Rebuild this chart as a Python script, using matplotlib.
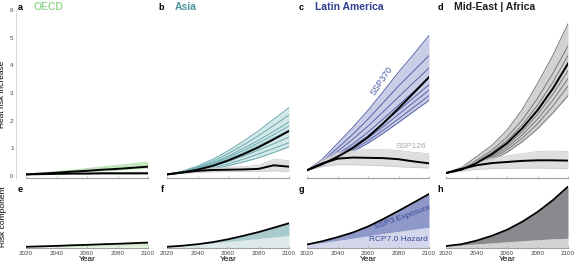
import matplotlib
matplotlib.use("Agg")
import matplotlib.pyplot as plt
import numpy as np

plt.rcParams['font.family'] = ['Liberation Sans', 'DejaVu Sans']

years = [2020, 2030, 2040, 2050, 2060, 2070, 2080, 2090, 2100]
regions = ["OECD", "Asia", "Latin America", "Mid-East | Africa"]
letters_top = ["a", "b", "c", "d"]
letters_bot = ["e", "f", "g", "h"]

# SSP370 ensemble members (heat risk increase)
oecd_members = [
    [0.05, 0.10, 0.15, 0.20, 0.26, 0.32, 0.38, 0.44, 0.50],
    [0.05, 0.09, 0.14, 0.19, 0.24, 0.29, 0.34, 0.40, 0.45],
    [0.05, 0.08, 0.12, 0.16, 0.20, 0.25, 0.30, 0.35, 0.40],
    [0.05, 0.07, 0.09, 0.12, 0.15, 0.18, 0.21, 0.25, 0.28],
]
asia_members = [
    [0.05, 0.17, 0.35, 0.60, 0.90, 1.25, 1.63, 2.05, 2.47],
    [0.05, 0.15, 0.31, 0.53, 0.80, 1.11, 1.45, 1.82, 2.20],
    [0.05, 0.14, 0.28, 0.47, 0.71, 0.99, 1.29, 1.61, 1.95],
    [0.05, 0.13, 0.26, 0.44, 0.66, 0.91, 1.19, 1.49, 1.80],
    [0.05, 0.12, 0.24, 0.40, 0.60, 0.83, 1.09, 1.37, 1.65],
    [0.05, 0.11, 0.21, 0.35, 0.52, 0.71, 0.93, 1.16, 1.40],
    [0.05, 0.10, 0.18, 0.29, 0.43, 0.60, 0.79, 0.99, 1.20],
    [0.05, 0.09, 0.15, 0.24, 0.36, 0.50, 0.65, 0.84, 1.05],
]
latam_members = [
    [0.20, 0.60, 1.17, 1.75, 2.37, 3.05, 3.75, 4.40, 5.08],
    [0.20, 0.52, 1.00, 1.50, 2.05, 2.65, 3.25, 3.80, 4.35],
    [0.20, 0.47, 0.88, 1.32, 1.80, 2.32, 2.85, 3.38, 3.90],
    [0.20, 0.44, 0.78, 1.15, 1.58, 2.06, 2.55, 3.05, 3.57],
    [0.20, 0.41, 0.72, 1.06, 1.45, 1.90, 2.37, 2.83, 3.30],
    [0.20, 0.40, 0.68, 1.00, 1.37, 1.78, 2.22, 2.66, 3.10],
    [0.20, 0.38, 0.64, 0.93, 1.27, 1.65, 2.06, 2.48, 2.90],
    [0.20, 0.36, 0.60, 0.87, 1.18, 1.54, 1.93, 2.33, 2.73],
]
mea_members = [
    [0.10, 0.30, 0.69, 1.10, 1.65, 2.40, 3.34, 4.35, 5.50],
    [0.10, 0.26, 0.56, 0.92, 1.40, 2.02, 2.80, 3.70, 4.70],
    [0.10, 0.24, 0.50, 0.84, 1.27, 1.84, 2.55, 3.38, 4.35],
    [0.10, 0.22, 0.46, 0.78, 1.18, 1.72, 2.37, 3.15, 4.06],
    [0.10, 0.21, 0.43, 0.72, 1.10, 1.60, 2.22, 2.95, 3.80],
    [0.10, 0.20, 0.40, 0.67, 1.02, 1.48, 2.05, 2.73, 3.52],
    [0.10, 0.19, 0.37, 0.62, 0.94, 1.36, 1.88, 2.52, 3.25],
    [0.10, 0.18, 0.34, 0.56, 0.85, 1.23, 1.70, 2.27, 2.90],
]

# SSP370 multi-model means (also total in bottom panels)
oecd_mean = [0.05, 0.08, 0.11, 0.15, 0.18, 0.22, 0.25, 0.29, 0.33]
asia_mean = [0.05, 0.12, 0.22, 0.36, 0.55, 0.78, 1.03, 1.32, 1.62]
latam_mean = [0.20, 0.42, 0.69, 1.00, 1.40, 1.90, 2.44, 3.00, 3.57]
mea_mean = [0.10, 0.22, 0.46, 0.78, 1.18, 1.72, 2.37, 3.15, 4.06]

# SSP126 mean and range
oecd_126 = [0.05, 0.06, 0.07, 0.08, 0.08, 0.09, 0.09, 0.09, 0.09]
oecd_126_lo = [0.05, 0.05, 0.05, 0.06, 0.06, 0.06, 0.06, 0.06, 0.06]
oecd_126_hi = [0.05, 0.07, 0.09, 0.10, 0.11, 0.12, 0.12, 0.13, 0.13]
asia_126 = [0.05, 0.12, 0.18, 0.21, 0.22, 0.23, 0.25, 0.38, 0.33]
asia_126_lo = [0.05, 0.09, 0.12, 0.14, 0.15, 0.15, 0.16, 0.18, 0.15]
asia_126_hi = [0.05, 0.15, 0.24, 0.29, 0.31, 0.33, 0.38, 0.60, 0.55]
latam_126 = [0.20, 0.45, 0.62, 0.66, 0.65, 0.64, 0.60, 0.52, 0.45]
latam_126_lo = [0.20, 0.33, 0.40, 0.40, 0.38, 0.36, 0.33, 0.30, 0.28]
latam_126_hi = [0.20, 0.58, 0.85, 0.93, 0.95, 0.95, 0.92, 0.85, 0.80]
mea_126 = [0.10, 0.25, 0.38, 0.46, 0.50, 0.54, 0.56, 0.56, 0.55]
mea_126_lo = [0.10, 0.17, 0.23, 0.26, 0.27, 0.28, 0.28, 0.27, 0.25]
mea_126_hi = [0.10, 0.32, 0.52, 0.64, 0.72, 0.80, 0.88, 0.90, 0.88]

# Hazard component (bottom panels, light part)
oecd_hazard = [0.05, 0.06, 0.07, 0.08, 0.09, 0.10, 0.11, 0.12, 0.13]
asia_hazard = [0.05, 0.13, 0.22, 0.30, 0.40, 0.50, 0.60, 0.70, 0.80]
latam_hazard = [0.20, 0.33, 0.47, 0.62, 0.78, 0.93, 1.08, 1.22, 1.35]
mea_hazard = [0.10, 0.17, 0.24, 0.31, 0.38, 0.45, 0.52, 0.58, 0.62]

members = [oecd_members, asia_members, latam_members, mea_members]
means = [oecd_mean, asia_mean, latam_mean, mea_mean]
m126 = [oecd_126, asia_126, latam_126, mea_126]
lo126 = [oecd_126_lo, asia_126_lo, latam_126_lo, mea_126_lo]
hi126 = [oecd_126_hi, asia_126_hi, latam_126_hi, mea_126_hi]
hazards = [oecd_hazard, asia_hazard, latam_hazard, mea_hazard]

title_colors = ["#9ad894", "#4c949b", "#2f3f8f", "#1f1f1f"]
line_colors = ["#b9e3b3", "#6aa9b0", "#5865aa", "#7a7a7a"]
fill_colors = ["#e3f3df", "#d4e7e9", "#c9cde5", "#d2d2d2"]
exp_colors = ["#cfe9ca", "#a9cbce", "#8e98c9", "#8b898d"]
haz_colors = ["#e9f5e6", "#dde9eb", "#d4d7eb", "#d3d3d3"]

fig = plt.figure(figsize=(5.75, 2.67), dpi=100)
W, H = 575.0, 267.0
lefts = [26, 167, 307, 446]
axw = 122
spine_col = "#a0a0a0"

for i in range(4):
    yr = np.array(years)
    # top panel
    ax = fig.add_axes([lefts[i] / W, (H - 178) / H, axw / W, 168 / H])
    mem = np.array(members[i])
    ax.fill_between(yr, mem.min(axis=0), mem.max(axis=0), color=fill_colors[i], lw=0, zorder=1)
    for m in mem:
        ax.plot(yr, m, color=line_colors[i], lw=0.7, zorder=2)
    ax.fill_between(yr, lo126[i], hi126[i], color="#dcdcdc", lw=0, zorder=3, alpha=0.9)
    ax.plot(yr, lo126[i], color="#c8c8c8", lw=0.5, zorder=3)
    ax.plot(yr, hi126[i], color="#c8c8c8", lw=0.5, zorder=3)
    ax.plot(yr, m126[i], color="black", lw=1.4, zorder=4)
    ax.plot(yr, means[i], color="black", lw=1.4, zorder=5)
    ax.set_xlim(2020, 2100)
    ax.set_ylim(-0.08, 6.0)
    ax.set_xticks([2020, 2040, 2060, 2080, 2100])
    ax.set_xticklabels([])
    for s in ["top", "right"]:
        ax.spines[s].set_visible(False)
    ax.spines["bottom"].set_color(spine_col)
    ax.spines["bottom"].set_linewidth(0.8)
    ax.tick_params(axis="x", length=1.5, width=0.5, color=spine_col, direction="in")
    if i == 0:
        ax.spines["left"].set_position(("outward", 7))
        ax.spines["left"].set_color("#d0d0d0")
        ax.spines["left"].set_linewidth(0.6)
        ax.set_yticks([0, 1, 2, 3, 4, 5, 6])
        ax.tick_params(axis="y", length=0, labelsize=4.5, labelcolor="#444444", pad=2)
        ax.set_ylabel("Heat risk increase", fontsize=6, labelpad=3)
    else:
        ax.spines["left"].set_visible(False)
        ax.set_yticks([])
    ax.patch.set_alpha(0)
    fig.text((lefts[i] - 3) / W, (H - 7) / H, letters_top[i], fontsize=6.5, fontweight="bold",
             ha="right", va="center")
    fig.text((lefts[i] + 8) / W, (H - 7) / H, regions[i], fontsize=7.5, fontweight="bold",
             color=title_colors[i], ha="left", va="center")

    # bottom panel
    bx = fig.add_axes([lefts[i] / W, (H - 248) / H, axw / W, 62 / H])
    bx.fill_between(yr, 0, hazards[i], color=haz_colors[i], lw=0)
    bx.fill_between(yr, hazards[i], means[i], color=exp_colors[i], lw=0)
    bx.plot(yr, means[i], color="black", lw=1.3)
    bx.set_xlim(2020, 2100)
    bx.set_ylim(-0.03, 4.1)
    bx.set_xticks([2020, 2040, 2060, 2080, 2100])
    bx.set_yticks([])
    for s in ["top", "right", "left"]:
        bx.spines[s].set_visible(False)
    bx.spines["bottom"].set_color(spine_col)
    bx.spines["bottom"].set_linewidth(0.8)
    bx.tick_params(axis="x", length=1.5, width=0.5, color=spine_col, direction="in",
                   labelsize=4.5, labelcolor="#444444", pad=2)
    bx.set_xlabel("Year", fontsize=6, labelpad=0)
    bx.patch.set_alpha(0)
    if i == 0:
        bx.set_ylabel("Risk component", fontsize=6, labelpad=14)
    fig.text((lefts[i] - 3) / W, (H - 190) / H, letters_bot[i], fontsize=6.5, fontweight="bold",
             ha="right", va="center")

    if i == 2:
        ax.text(2069, 3.45, "SSP370", fontsize=6.5, color="#4a58a4", rotation=56,
                ha="center", va="center", zorder=6)
        ax.text(2098, 0.95, "SSP126", fontsize=6, color="#a8a8a8", ha="right", va="bottom")
        bx.text(2083, 2.0, "SSP3 Exposure", fontsize=6, color="#3d4a96", rotation=20,
                ha="center", va="center")
        bx.text(2099, 0.55, "RCP7.0 Hazard", fontsize=6, color="#3d4a96",
                ha="right", va="center")

fig.savefig("out.png", dpi=100)
